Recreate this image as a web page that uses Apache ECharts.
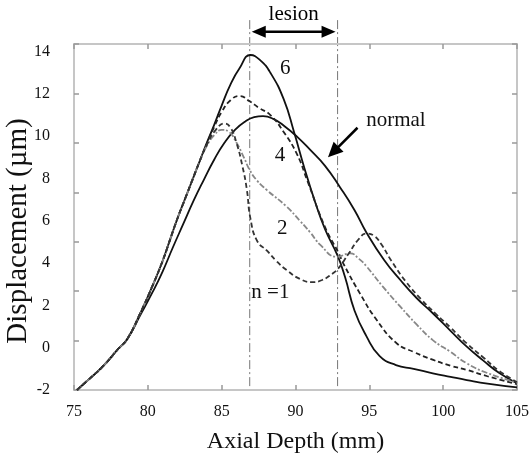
<!DOCTYPE html>
<html>
<head>
<meta charset="utf-8">
<script src="https://cdn.jsdelivr.net/npm/echarts@6/dist/echarts.min.js"></script>
<style>
html, body { margin: 0; padding: 0; background: #fff; }
#chart { width: 531px; height: 461px; }
</style>
</head>
<body>
<div id="chart"></div>
<script>
// axial depth (mm) / displacement (um) pairs
var curveN6 = [[75.2,-2],[76,-1.5],[77,-0.85],[78,-0.05],[78.6,0.4],[79.5,1.65],[80.3,2.9],[81,4.1],[81.5,5.1],[82,6.1],[82.5,7.0],[83,7.9],[83.5,8.8],[84,9.7],[84.5,10.55],[85,11.45],[85.6,12.45],[86.2,13.2],[86.95,13.84],[87.6,13.6],[88.3,13.0],[89.2,11.75],[89.9,10.2],[90.6,8.5],[91.3,6.95],[92,5.6],[92.85,4.35],[93.35,3.35],[94,1.75],[94.8,0.55],[95.7,-0.4],[96.8,-0.82],[98,-1.0],[99.3,-1.21],[100.5,-1.38],[101.6,-1.53],[103,-1.7],[105,-1.88]];
var curveN4 = [[75.2,-2],[76,-1.5],[77,-0.85],[78,-0.05],[78.6,0.4],[79.5,1.65],[80.3,2.9],[81,4.1],[81.5,5.1],[82,6.1],[82.5,7.0],[83,7.9],[83.5,8.8],[84,9.65],[84.5,10.45],[85,11.15],[85.6,11.7],[86.2,11.9],[86.9,11.65],[87.5,11.35],[88.3,11.0],[89.2,10.2],[90.1,9.15],[90.8,7.9],[92,5.7],[92.9,4.5],[93.3,3.9],[94.36,2.57],[95.5,1.31],[96.85,0.21],[98,-0.2],[99.33,-0.58],[100.5,-0.85],[101.6,-1.05],[103,-1.35],[105,-1.72]];
var curveN2 = [[75.2,-2],[76,-1.5],[77,-0.85],[78,-0.05],[78.6,0.4],[79.5,1.65],[80.3,2.9],[81,4.1],[81.5,5.1],[82,6.1],[82.5,7.0],[83,7.9],[83.5,8.8],[84,9.55],[84.5,10.05],[85,10.3],[85.5,10.2],[86,9.7],[86.5,9.0],[86.9,8.4],[87.4,7.9],[88.05,7.46],[89.4,6.67],[90.3,6.0],[91,5.45],[91.7,4.85],[92.8,4.3],[93.7,4.46],[94.3,4.2],[94.8,3.85],[95.9,2.9],[97.1,1.94],[98.2,1.1],[99.3,0.36],[100.5,-0.2],[101.6,-0.74],[103,-1.2],[105,-1.65]];
var curveN1 = [[75.2,-2],[76,-1.5],[77,-0.85],[78,-0.05],[78.6,0.4],[79.5,1.65],[80.3,2.9],[81,4.1],[81.5,5.1],[82,6.1],[82.5,7.0],[83,7.9],[83.5,8.8],[84,9.6],[84.6,10.3],[85.2,10.6],[85.6,10.4],[86,9.7],[86.4,8.6],[86.7,7.5],[86.95,6.1],[87.4,5.05],[88.05,4.6],[88.7,4.1],[89.4,3.67],[90.3,3.25],[91.1,3.1],[91.8,3.2],[92.5,3.5],[92.9,3.75],[93.6,4.45],[94.3,5.15],[94.8,5.4],[95.3,5.3],[95.8,4.9],[96.5,4.1],[97.5,3.1],[98.5,2.3],[99.5,1.6],[100.5,0.95],[101.6,0.2],[102.7,-0.45],[103.8,-1.1],[105,-1.62]];
var curveNormal = [[75.2,-2],[76,-1.5],[77,-0.85],[78,-0.05],[78.6,0.4],[79.5,1.55],[80.3,2.6],[81,3.6],[81.7,4.75],[82.4,5.85],[83.1,6.95],[83.8,7.95],[84.5,8.9],[85.2,9.7],[85.9,10.3],[86.6,10.7],[87.2,10.9],[87.8,10.95],[88.5,10.82],[89.3,10.45],[90.1,9.98],[91,9.35],[92,8.6],[93,7.6],[94,6.5],[94.8,5.45],[96,4.15],[97.1,3.2],[98.2,2.35],[99.3,1.63],[100.5,0.8],[101.6,0.05],[102.7,-0.6],[103.8,-1.2],[105,-1.68]];

var lesionBounds = [86.9, 92.85];
// curve labels: [text, depth, displacement]
var curveLabels = [['6', 89.3, 13.2], ['4', 88.95, 9.1], ['2', 89.1, 5.65], ['n =1', 88.3, 2.6], ['normal', 96.8, 10.75]];
var normalArrow = [[94.2, 10.4], [92.2, 9.0]];

var font = 'Liberation Serif';
var frameColor = '#c6c6c6';
var chart = echarts.init(document.getElementById('chart'));

function lineSeries(name, data, color, dash) {
    return {
        name: name,
        type: 'line',
        data: data,
        smooth: 0.5,
        showSymbol: false,
        silent: true,
        clip: false,
        lineStyle: { color: color, width: 1.8, type: dash }
    };
}

function tickStyle() {
    return { show: true, inside: true, length: 5, lineStyle: { color: '#999', width: 1.5 } };
}
function frameLine() {
    return { show: true, onZero: false, lineStyle: { color: frameColor, width: 2 } };
}

var tickAxis = function(pos) {
    return {
        type: 'value', position: pos, min: 0, max: 7, interval: 1,
        axisLine: frameLine(), splitLine: { show: false }, axisLabel: { show: false },
        axisTick: tickStyle()
    };
};

chart.setOption({
    animation: false,
    backgroundColor: '#fff',
    grid: {
        left: 74, right: 14, top: 44, bottom: 71, outerBoundsMode: 'none', containLabel: false,
        show: true, borderColor: frameColor, borderWidth: 2
    },
    xAxis: [{
        type: 'value', min: 75, max: 105, interval: 5,
        name: 'Axial Depth (mm)', nameLocation: 'middle', nameGap: 40, nameMoveOverlap: false,
        nameTextStyle: { fontFamily: font, fontSize: 24, color: '#111' },
        axisLine: frameLine(), splitLine: { show: false },
        axisTick: tickStyle(),
        axisLabel: { fontFamily: font, fontSize: 16, color: '#111', margin: 14 }
    }, {
        type: 'value', position: 'top', min: 75, max: 105, interval: 5,
        axisLine: frameLine(), splitLine: { show: false }, axisLabel: { show: false },
        axisTick: tickStyle()
    }],
    yAxis: [{
        type: 'value', position: 'left', min: -2, max: 14.36, interval: 2,
        name: 'Displacement (\u00b5m)', nameLocation: 'middle', nameGap: 41, nameMoveOverlap: false,
        nameTextStyle: { fontFamily: font, fontSize: 29, color: '#111', padding: [0, 28, 0, 0] },
        axisLine: { show: false, onZero: false }, splitLine: { show: false }, axisTick: { show: false },
        axisLabel: {
            fontFamily: font, fontSize: 16, color: '#111', margin: 24,
            formatter: function(v) { return Math.abs(v % 2) < 1e-6 ? String(v) : ''; }
        }
    }, tickAxis('left'), tickAxis('right')],
    series: [
        lineSeries('normal', curveNormal, '#111', 'solid'),
        lineSeries('n=6', curveN6, '#111', 'solid'),
        lineSeries('n=4', curveN4, '#222', [5, 3]),
        lineSeries('n=2', curveN2, '#888', [6, 2, 2, 2]),
        lineSeries('n=1', curveN1, '#333', [5, 3])
    ]
});

function px(x, y) {
    return chart.convertToPixel({ xAxisIndex: 0, yAxisIndex: 0 }, [x, y]);
}

function arrowHead(tip, from, len, half) {
    var dx = tip[0] - from[0], dy = tip[1] - from[1];
    var d = Math.sqrt(dx * dx + dy * dy);
    var ux = dx / d, uy = dy / d;
    var bx = tip[0] - ux * len, by = tip[1] - uy * len;
    return {
        type: 'polygon',
        shape: { points: [tip, [bx - uy * half, by + ux * half], [bx + uy * half, by - ux * half]] },
        style: { fill: '#000' }
    };
}

var els = [];
var yTop = px(80, 15.49)[1];
var yBottom = px(80, -2)[1];
lesionBounds.forEach(function(b) {
    var x = px(b, 0)[0];
    els.push({
        type: 'line', shape: { x1: x, y1: yTop, x2: x, y2: yBottom },
        style: { stroke: '#777', lineWidth: 1, lineDash: [9, 3, 2, 3] }
    });
});
var la = px(lesionBounds[0], 14.94), lb = px(lesionBounds[1], 14.94);
els.push({ type: 'line', shape: { x1: la[0] + 8, y1: la[1], x2: lb[0] - 8, y2: lb[1] }, style: { stroke: '#000', lineWidth: 2.5 } });
els.push(arrowHead([la[0] + 2, la[1]], lb, 14, 6));
els.push(arrowHead([lb[0] - 2, lb[1]], la, 14, 6));
var lt = px((lesionBounds[0] + lesionBounds[1]) / 2, 15.75);
els.push({
    type: 'text', x: lt[0], y: lt[1],
    style: { text: 'lesion', fontFamily: font, fontSize: 21, fill: '#000', align: 'center', verticalAlign: 'middle' }
});

curveLabels.forEach(function(l) {
    var p = px(l[1], l[2]);
    els.push({
        type: 'text', x: p[0], y: p[1],
        style: { text: l[0], fontFamily: font, fontSize: 21, fill: '#111', align: 'center', verticalAlign: 'middle' }
    });
});

var at = px(normalArrow[0][0], normalArrow[0][1]), ah = px(normalArrow[1][0], normalArrow[1][1]);
els.push({ type: 'line', shape: { x1: at[0], y1: at[1], x2: ah[0] + 6, y2: ah[1] - 6 }, style: { stroke: '#000', lineWidth: 2.5 } });
els.push(arrowHead(ah, at, 15, 7));

chart.setOption({ graphic: els });
</script>
</body>
</html>
